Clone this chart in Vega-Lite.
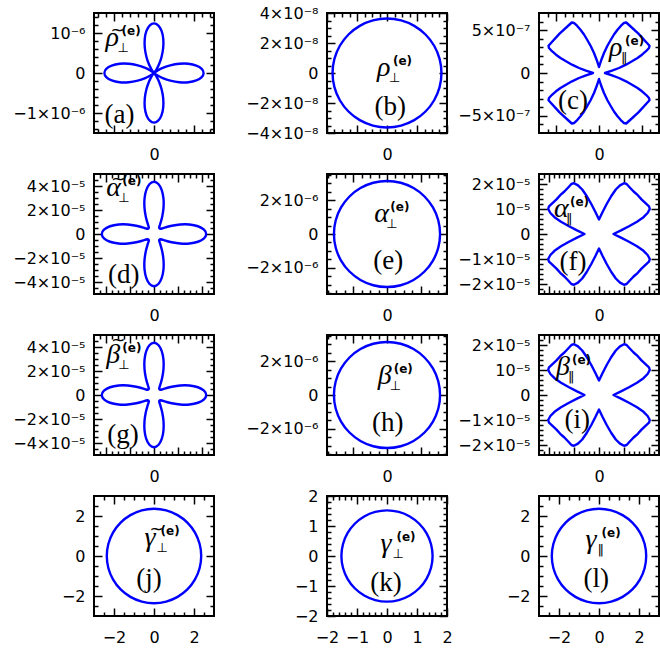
{
  "$schema": "https://vega.github.io/schema/vega-lite/v6.json",
  "padding": 0,
  "columns": 3,
  "align": "each",
  "bounds": "full",
  "spacing": {"row": -9, "column": 0},
  "datasets": {
    "rose_a": [
      {"x":1.24e-6,"y":0},{"x":1.193e-6,"y":0.104e-6},{"x":1.058e-6,"y":0.187e-6},{"x":0.86e-6,"y":0.231e-6},{"x":0.631e-6,"y":0.23e-6},{"x":0.407e-6,"y":0.19e-6},{"x":0.218e-6,"y":0.126e-6},{"x":0.086e-6,"y":0.06e-6},{"x":0.017e-6,"y":0.014e-6},{"x":0,"y":0},
      {"x":0.014e-6,"y":0.017e-6},{"x":0.06e-6,"y":0.086e-6},{"x":0.126e-6,"y":0.218e-6},{"x":0.19e-6,"y":0.407e-6},{"x":0.23e-6,"y":0.631e-6},{"x":0.231e-6,"y":0.86e-6},{"x":0.187e-6,"y":1.058e-6},{"x":0.104e-6,"y":1.193e-6},
      {"x":0,"y":1.24e-6},{"x":-0.104e-6,"y":1.193e-6},{"x":-0.187e-6,"y":1.058e-6},{"x":-0.231e-6,"y":0.86e-6},{"x":-0.23e-6,"y":0.631e-6},{"x":-0.19e-6,"y":0.407e-6},{"x":-0.126e-6,"y":0.218e-6},{"x":-0.06e-6,"y":0.086e-6},{"x":-0.014e-6,"y":0.017e-6},{"x":0,"y":0},
      {"x":-0.017e-6,"y":0.014e-6},{"x":-0.086e-6,"y":0.06e-6},{"x":-0.218e-6,"y":0.126e-6},{"x":-0.407e-6,"y":0.19e-6},{"x":-0.631e-6,"y":0.23e-6},{"x":-0.86e-6,"y":0.231e-6},{"x":-1.058e-6,"y":0.187e-6},{"x":-1.193e-6,"y":0.104e-6},
      {"x":-1.24e-6,"y":0},{"x":-1.193e-6,"y":-0.104e-6},{"x":-1.058e-6,"y":-0.187e-6},{"x":-0.86e-6,"y":-0.231e-6},{"x":-0.631e-6,"y":-0.23e-6},{"x":-0.407e-6,"y":-0.19e-6},{"x":-0.218e-6,"y":-0.126e-6},{"x":-0.086e-6,"y":-0.06e-6},{"x":-0.017e-6,"y":-0.014e-6},{"x":0,"y":0},
      {"x":-0.014e-6,"y":-0.017e-6},{"x":-0.06e-6,"y":-0.086e-6},{"x":-0.126e-6,"y":-0.218e-6},{"x":-0.19e-6,"y":-0.407e-6},{"x":-0.23e-6,"y":-0.631e-6},{"x":-0.231e-6,"y":-0.86e-6},{"x":-0.187e-6,"y":-1.058e-6},{"x":-0.104e-6,"y":-1.193e-6},
      {"x":0,"y":-1.24e-6},{"x":0.104e-6,"y":-1.193e-6},{"x":0.187e-6,"y":-1.058e-6},{"x":0.231e-6,"y":-0.86e-6},{"x":0.23e-6,"y":-0.631e-6},{"x":0.19e-6,"y":-0.407e-6},{"x":0.126e-6,"y":-0.218e-6},{"x":0.06e-6,"y":-0.086e-6},{"x":0.014e-6,"y":-0.017e-6},{"x":0,"y":0},
      {"x":0.017e-6,"y":-0.014e-6},{"x":0.086e-6,"y":-0.06e-6},{"x":0.218e-6,"y":-0.126e-6},{"x":0.407e-6,"y":-0.19e-6},{"x":0.631e-6,"y":-0.23e-6},{"x":0.86e-6,"y":-0.231e-6},{"x":1.058e-6,"y":-0.187e-6},{"x":1.193e-6,"y":-0.104e-6}
    ],
    "rose_dg": [
      {"x":4.35e-5,"y":0},{"x":4.168e-5,"y":0.365e-5},{"x":3.664e-5,"y":0.646e-5},{"x":2.95e-5,"y":0.79e-5},{"x":2.175e-5,"y":0.792e-5},{"x":1.481e-5,"y":0.691e-5},{"x":0.965e-5,"y":0.557e-5},{"x":0.656e-5,"y":0.459e-5},{"x":0.515e-5,"y":0.432e-5},{"x":0.461e-5,"y":0.461e-5},
      {"x":0.432e-5,"y":0.515e-5},{"x":0.459e-5,"y":0.656e-5},{"x":0.557e-5,"y":0.965e-5},{"x":0.691e-5,"y":1.481e-5},{"x":0.792e-5,"y":2.175e-5},{"x":0.79e-5,"y":2.95e-5},{"x":0.646e-5,"y":3.664e-5},{"x":0.365e-5,"y":4.168e-5},
      {"x":0,"y":4.35e-5},{"x":-0.365e-5,"y":4.168e-5},{"x":-0.646e-5,"y":3.664e-5},{"x":-0.79e-5,"y":2.95e-5},{"x":-0.792e-5,"y":2.175e-5},{"x":-0.691e-5,"y":1.481e-5},{"x":-0.557e-5,"y":0.965e-5},{"x":-0.459e-5,"y":0.656e-5},{"x":-0.432e-5,"y":0.515e-5},{"x":-0.461e-5,"y":0.461e-5},
      {"x":-0.515e-5,"y":0.432e-5},{"x":-0.656e-5,"y":0.459e-5},{"x":-0.965e-5,"y":0.557e-5},{"x":-1.481e-5,"y":0.691e-5},{"x":-2.175e-5,"y":0.792e-5},{"x":-2.95e-5,"y":0.79e-5},{"x":-3.664e-5,"y":0.646e-5},{"x":-4.168e-5,"y":0.365e-5},
      {"x":-4.35e-5,"y":0},{"x":-4.168e-5,"y":-0.365e-5},{"x":-3.664e-5,"y":-0.646e-5},{"x":-2.95e-5,"y":-0.79e-5},{"x":-2.175e-5,"y":-0.792e-5},{"x":-1.481e-5,"y":-0.691e-5},{"x":-0.965e-5,"y":-0.557e-5},{"x":-0.656e-5,"y":-0.459e-5},{"x":-0.515e-5,"y":-0.432e-5},{"x":-0.461e-5,"y":-0.461e-5},
      {"x":-0.432e-5,"y":-0.515e-5},{"x":-0.459e-5,"y":-0.656e-5},{"x":-0.557e-5,"y":-0.965e-5},{"x":-0.691e-5,"y":-1.481e-5},{"x":-0.792e-5,"y":-2.175e-5},{"x":-0.79e-5,"y":-2.95e-5},{"x":-0.646e-5,"y":-3.664e-5},{"x":-0.365e-5,"y":-4.168e-5},
      {"x":0,"y":-4.35e-5},{"x":0.365e-5,"y":-4.168e-5},{"x":0.646e-5,"y":-3.664e-5},{"x":0.79e-5,"y":-2.95e-5},{"x":0.792e-5,"y":-2.175e-5},{"x":0.691e-5,"y":-1.481e-5},{"x":0.557e-5,"y":-0.965e-5},{"x":0.459e-5,"y":-0.656e-5},{"x":0.432e-5,"y":-0.515e-5},{"x":0.461e-5,"y":-0.461e-5},
      {"x":0.515e-5,"y":-0.432e-5},{"x":0.656e-5,"y":-0.459e-5},{"x":0.965e-5,"y":-0.557e-5},{"x":1.481e-5,"y":-0.691e-5},{"x":2.175e-5,"y":-0.792e-5},{"x":2.95e-5,"y":-0.79e-5},{"x":3.664e-5,"y":-0.646e-5},{"x":4.168e-5,"y":-0.365e-5}
    ],
    "lobe_c": [
      {"x":0.7e-7,"y":0},{"x":1.517e-7,"y":0.268e-7},{"x":2.333e-7,"y":0.583e-7},{"x":3.15e-7,"y":0.968e-7},{"x":3.85e-7,"y":1.365e-7},{"x":4.492e-7,"y":1.75e-7},{"x":5.017e-7,"y":2.135e-7},{"x":5.484e-7,"y":2.543e-7},{"x":5.834e-7,"y":2.917e-7},{"x":5.892e-7,"y":3.174e-7},{"x":5.6e-7,"y":3.5e-7},{"x":4.6e-7,"y":4.6e-7},
      {"x":3.5e-7,"y":5.6e-7},{"x":3.174e-7,"y":5.892e-7},{"x":2.917e-7,"y":5.834e-7},{"x":2.543e-7,"y":5.484e-7},{"x":2.135e-7,"y":5.017e-7},{"x":1.75e-7,"y":4.492e-7},{"x":1.365e-7,"y":3.85e-7},{"x":0.968e-7,"y":3.15e-7},{"x":0.583e-7,"y":2.333e-7},{"x":0.268e-7,"y":1.517e-7},
      {"x":0,"y":0.7e-7},{"x":-0.268e-7,"y":1.517e-7},{"x":-0.583e-7,"y":2.333e-7},{"x":-0.968e-7,"y":3.15e-7},{"x":-1.365e-7,"y":3.85e-7},{"x":-1.75e-7,"y":4.492e-7},{"x":-2.135e-7,"y":5.017e-7},{"x":-2.543e-7,"y":5.484e-7},{"x":-2.917e-7,"y":5.834e-7},{"x":-3.174e-7,"y":5.892e-7},{"x":-3.5e-7,"y":5.6e-7},{"x":-4.6e-7,"y":4.6e-7},
      {"x":-5.6e-7,"y":3.5e-7},{"x":-5.892e-7,"y":3.174e-7},{"x":-5.834e-7,"y":2.917e-7},{"x":-5.484e-7,"y":2.543e-7},{"x":-5.017e-7,"y":2.135e-7},{"x":-4.492e-7,"y":1.75e-7},{"x":-3.85e-7,"y":1.365e-7},{"x":-3.15e-7,"y":0.968e-7},{"x":-2.333e-7,"y":0.583e-7},{"x":-1.517e-7,"y":0.268e-7},
      {"x":-0.7e-7,"y":0},{"x":-1.517e-7,"y":-0.268e-7},{"x":-2.333e-7,"y":-0.583e-7},{"x":-3.15e-7,"y":-0.968e-7},{"x":-3.85e-7,"y":-1.365e-7},{"x":-4.492e-7,"y":-1.75e-7},{"x":-5.017e-7,"y":-2.135e-7},{"x":-5.484e-7,"y":-2.543e-7},{"x":-5.834e-7,"y":-2.917e-7},{"x":-5.892e-7,"y":-3.174e-7},{"x":-5.6e-7,"y":-3.5e-7},{"x":-4.6e-7,"y":-4.6e-7},
      {"x":-3.5e-7,"y":-5.6e-7},{"x":-3.174e-7,"y":-5.892e-7},{"x":-2.917e-7,"y":-5.834e-7},{"x":-2.543e-7,"y":-5.484e-7},{"x":-2.135e-7,"y":-5.017e-7},{"x":-1.75e-7,"y":-4.492e-7},{"x":-1.365e-7,"y":-3.85e-7},{"x":-0.968e-7,"y":-3.15e-7},{"x":-0.583e-7,"y":-2.333e-7},{"x":-0.268e-7,"y":-1.517e-7},
      {"x":0,"y":-0.7e-7},{"x":0.268e-7,"y":-1.517e-7},{"x":0.583e-7,"y":-2.333e-7},{"x":0.968e-7,"y":-3.15e-7},{"x":1.365e-7,"y":-3.85e-7},{"x":1.75e-7,"y":-4.492e-7},{"x":2.135e-7,"y":-5.017e-7},{"x":2.543e-7,"y":-5.484e-7},{"x":2.917e-7,"y":-5.834e-7},{"x":3.174e-7,"y":-5.892e-7},{"x":3.5e-7,"y":-5.6e-7},{"x":4.6e-7,"y":-4.6e-7},
      {"x":5.6e-7,"y":-3.5e-7},{"x":5.892e-7,"y":-3.174e-7},{"x":5.834e-7,"y":-2.917e-7},{"x":5.484e-7,"y":-2.543e-7},{"x":5.017e-7,"y":-2.135e-7},{"x":4.492e-7,"y":-1.75e-7},{"x":3.85e-7,"y":-1.365e-7},{"x":3.15e-7,"y":-0.968e-7},{"x":2.333e-7,"y":-0.583e-7},{"x":1.517e-7,"y":-0.268e-7}
    ],
    "lobe_fi": [
      {"x":5.8e-6,"y":0},{"x":8.8e-6,"y":1.44e-6},{"x":12e-6,"y":3.08e-6},{"x":15.2e-6,"y":4.92e-6},{"x":17.8e-6,"y":6.72e-6},{"x":19.44e-6,"y":8.4e-6},{"x":20.32e-6,"y":10e-6},{"x":20e-6,"y":11.04e-6},{"x":18.6e-6,"y":12.32e-6},{"x":17e-6,"y":13.84e-6},{"x":15.52e-6,"y":15.52e-6},
      {"x":13.84e-6,"y":17e-6},{"x":12.32e-6,"y":18.6e-6},{"x":11.04e-6,"y":20e-6},{"x":10e-6,"y":20.32e-6},{"x":8.4e-6,"y":19.44e-6},{"x":6.72e-6,"y":17.8e-6},{"x":4.92e-6,"y":15.2e-6},{"x":3.08e-6,"y":12e-6},{"x":1.44e-6,"y":8.8e-6},
      {"x":0,"y":5.8e-6},{"x":-1.44e-6,"y":8.8e-6},{"x":-3.08e-6,"y":12e-6},{"x":-4.92e-6,"y":15.2e-6},{"x":-6.72e-6,"y":17.8e-6},{"x":-8.4e-6,"y":19.44e-6},{"x":-10e-6,"y":20.32e-6},{"x":-11.04e-6,"y":20e-6},{"x":-12.32e-6,"y":18.6e-6},{"x":-13.84e-6,"y":17e-6},{"x":-15.52e-6,"y":15.52e-6},
      {"x":-17e-6,"y":13.84e-6},{"x":-18.6e-6,"y":12.32e-6},{"x":-20e-6,"y":11.04e-6},{"x":-20.32e-6,"y":10e-6},{"x":-19.44e-6,"y":8.4e-6},{"x":-17.8e-6,"y":6.72e-6},{"x":-15.2e-6,"y":4.92e-6},{"x":-12e-6,"y":3.08e-6},{"x":-8.8e-6,"y":1.44e-6},
      {"x":-5.8e-6,"y":0},{"x":-8.8e-6,"y":-1.44e-6},{"x":-12e-6,"y":-3.08e-6},{"x":-15.2e-6,"y":-4.92e-6},{"x":-17.8e-6,"y":-6.72e-6},{"x":-19.44e-6,"y":-8.4e-6},{"x":-20.32e-6,"y":-10e-6},{"x":-20e-6,"y":-11.04e-6},{"x":-18.6e-6,"y":-12.32e-6},{"x":-17e-6,"y":-13.84e-6},{"x":-15.52e-6,"y":-15.52e-6},
      {"x":-13.84e-6,"y":-17e-6},{"x":-12.32e-6,"y":-18.6e-6},{"x":-11.04e-6,"y":-20e-6},{"x":-10e-6,"y":-20.32e-6},{"x":-8.4e-6,"y":-19.44e-6},{"x":-6.72e-6,"y":-17.8e-6},{"x":-4.92e-6,"y":-15.2e-6},{"x":-3.08e-6,"y":-12e-6},{"x":-1.44e-6,"y":-8.8e-6},
      {"x":0,"y":-5.8e-6},{"x":1.44e-6,"y":-8.8e-6},{"x":3.08e-6,"y":-12e-6},{"x":4.92e-6,"y":-15.2e-6},{"x":6.72e-6,"y":-17.8e-6},{"x":8.4e-6,"y":-19.44e-6},{"x":10e-6,"y":-20.32e-6},{"x":11.04e-6,"y":-20e-6},{"x":12.32e-6,"y":-18.6e-6},{"x":13.84e-6,"y":-17e-6},{"x":15.52e-6,"y":-15.52e-6},
      {"x":17e-6,"y":-13.84e-6},{"x":18.6e-6,"y":-12.32e-6},{"x":20e-6,"y":-11.04e-6},{"x":20.32e-6,"y":-10e-6},{"x":19.44e-6,"y":-8.4e-6},{"x":17.8e-6,"y":-6.72e-6},{"x":15.2e-6,"y":-4.92e-6},{"x":12e-6,"y":-3.08e-6},{"x":8.8e-6,"y":-1.44e-6}
    ],
    "circ_b": [
      {"x":3.63e-8,"y":0},{"x":3.506e-8,"y":0.94e-8},{"x":3.144e-8,"y":1.815e-8},{"x":2.567e-8,"y":2.567e-8},{"x":1.815e-8,"y":3.144e-8},{"x":0.94e-8,"y":3.506e-8},
      {"x":0,"y":3.63e-8},{"x":-0.94e-8,"y":3.506e-8},{"x":-1.815e-8,"y":3.144e-8},{"x":-2.567e-8,"y":2.567e-8},{"x":-3.144e-8,"y":1.815e-8},{"x":-3.506e-8,"y":0.94e-8},
      {"x":-3.63e-8,"y":0},{"x":-3.506e-8,"y":-0.94e-8},{"x":-3.144e-8,"y":-1.815e-8},{"x":-2.567e-8,"y":-2.567e-8},{"x":-1.815e-8,"y":-3.144e-8},{"x":-0.94e-8,"y":-3.506e-8},
      {"x":0,"y":-3.63e-8},{"x":0.94e-8,"y":-3.506e-8},{"x":1.815e-8,"y":-3.144e-8},{"x":2.567e-8,"y":-2.567e-8},{"x":3.144e-8,"y":-1.815e-8},{"x":3.506e-8,"y":-0.94e-8}
    ],
    "circ_eh": [
      {"x":3.14e-6,"y":0},{"x":3.033e-6,"y":0.813e-6},{"x":2.719e-6,"y":1.57e-6},{"x":2.22e-6,"y":2.22e-6},{"x":1.57e-6,"y":2.719e-6},{"x":0.813e-6,"y":3.033e-6},
      {"x":0,"y":3.14e-6},{"x":-0.813e-6,"y":3.033e-6},{"x":-1.57e-6,"y":2.719e-6},{"x":-2.22e-6,"y":2.22e-6},{"x":-2.719e-6,"y":1.57e-6},{"x":-3.033e-6,"y":0.813e-6},
      {"x":-3.14e-6,"y":0},{"x":-3.033e-6,"y":-0.813e-6},{"x":-2.719e-6,"y":-1.57e-6},{"x":-2.22e-6,"y":-2.22e-6},{"x":-1.57e-6,"y":-2.719e-6},{"x":-0.813e-6,"y":-3.033e-6},
      {"x":0,"y":-3.14e-6},{"x":0.813e-6,"y":-3.033e-6},{"x":1.57e-6,"y":-2.719e-6},{"x":2.22e-6,"y":-2.22e-6},{"x":2.719e-6,"y":-1.57e-6},{"x":3.033e-6,"y":-0.813e-6}
    ],
    "circ_jl": [
      {"x":2.36,"y":0},{"x":2.28,"y":0.611},{"x":2.044,"y":1.18},{"x":1.669,"y":1.669},{"x":1.18,"y":2.044},{"x":0.611,"y":2.28},
      {"x":0,"y":2.36},{"x":-0.611,"y":2.28},{"x":-1.18,"y":2.044},{"x":-1.669,"y":1.669},{"x":-2.044,"y":1.18},{"x":-2.28,"y":0.611},
      {"x":-2.36,"y":0},{"x":-2.28,"y":-0.611},{"x":-2.044,"y":-1.18},{"x":-1.669,"y":-1.669},{"x":-1.18,"y":-2.044},{"x":-0.611,"y":-2.28},
      {"x":0,"y":-2.36},{"x":0.611,"y":-2.28},{"x":1.18,"y":-2.044},{"x":1.669,"y":-1.669},{"x":2.044,"y":-1.18},{"x":2.28,"y":-0.611}
    ],
    "circ_k": [
      {"x":1.52,"y":0},{"x":1.468,"y":0.393},{"x":1.316,"y":0.76},{"x":1.075,"y":1.075},{"x":0.76,"y":1.316},{"x":0.393,"y":1.468},
      {"x":0,"y":1.52},{"x":-0.393,"y":1.468},{"x":-0.76,"y":1.316},{"x":-1.075,"y":1.075},{"x":-1.316,"y":0.76},{"x":-1.468,"y":0.393},
      {"x":-1.52,"y":0},{"x":-1.468,"y":-0.393},{"x":-1.316,"y":-0.76},{"x":-1.075,"y":-1.075},{"x":-0.76,"y":-1.316},{"x":-0.393,"y":-1.468},
      {"x":0,"y":-1.52},{"x":0.393,"y":-1.468},{"x":0.76,"y":-1.316},{"x":1.075,"y":-1.075},{"x":1.316,"y":-0.76},{"x":1.468,"y":-0.393}
    ]
  },
  "concat": [
    {
      "width": 120, "height": 120,
      "data": {"values": [{"x":-1.21e-6,"y":0.67e-6,"ky":0.935e-6,"sym":"ρ","tl":"~","sub":"⊥","tx":-0.86e-6,"ty":-1.04e-6,"tag":"(a)"}]},
      "layer": [
        {"data": {"name": "rose_a"}, "mark": {"type": "line", "interpolate": "cardinal-closed", "stroke": "#0000ff", "strokeWidth": 2.4},
         "encoding": {
           "x": {"field": "x", "type": "quantitative", "scale": {"domain": [-1.5e-6, 1.5e-6], "nice": false}, "axis": {"orient": "bottom", "values": [-1e-6, 0, 1e-6], "tickSize": -8, "labelExpr": "datum.value == 0 ? '0' : ''", "minExtent": 36, "title": null}},
           "y": {"field": "y", "type": "quantitative", "scale": {"domain": [-1.5e-6, 1.5e-6], "nice": false}, "axis": {"orient": "left", "values": [-1e-6, 0, 1e-6], "tickSize": -8, "labelExpr": "datum.value > 0 ? '10⁻⁶' : datum.value < 0 ? '−1×10⁻⁶' : '0'", "minExtent": 93, "title": null}},
           "order": {"value": null}}},
        {"mark": {"type": "text", "style": "symbol"},
         "encoding": {
           "x": {"field": "x", "type": "quantitative", "scale": {"domain": [-1.5e-6, 1.5e-6], "nice": false}, "axis": {"orient": "top", "values": [-1e-6, 0, 1e-6], "tickSize": -8, "labels": false, "minExtent": 12, "title": null}},
           "y": {"field": "y", "type": "quantitative", "scale": {"domain": [-1.5e-6, 1.5e-6], "nice": false}, "axis": {"orient": "right", "values": [-1e-6, 0, 1e-6], "tickSize": -8, "labels": false, "minExtent": 6, "title": null}},
           "text": {"field": "sym"}}},
        {"mark": {"type": "text", "style": "sup"},
         "encoding": {
           "x": {"field": "x", "type": "quantitative", "scale": {"domain": [-1.5e-6, 1.5e-6], "nice": false}, "axis": {"orient": "bottom", "values": [-1.4e-6,-1.2e-6,-0.8e-6,-0.6e-6,-0.4e-6,-0.2e-6,0.2e-6,0.4e-6,0.6e-6,0.8e-6,1.2e-6,1.4e-6], "tickSize": -4, "labels": false, "title": null}},
           "y": {"field": "y", "type": "quantitative", "scale": {"domain": [-1.5e-6, 1.5e-6], "nice": false}, "axis": {"orient": "left", "values": [-1.4e-6,-1.2e-6,-0.8e-6,-0.6e-6,-0.4e-6,-0.2e-6,0.2e-6,0.4e-6,0.6e-6,0.8e-6,1.2e-6,1.4e-6], "tickSize": -4, "labels": false, "title": null}},
           "text": {"value": "(e)"}}},
        {"mark": {"type": "text", "style": "sub"},
         "encoding": {
           "x": {"field": "x", "type": "quantitative", "scale": {"domain": [-1.5e-6, 1.5e-6], "nice": false}, "axis": {"orient": "top", "values": [-1.4e-6,-1.2e-6,-0.8e-6,-0.6e-6,-0.4e-6,-0.2e-6,0.2e-6,0.4e-6,0.6e-6,0.8e-6,1.2e-6,1.4e-6], "tickSize": -4, "labels": false, "title": null}},
           "y": {"field": "y", "type": "quantitative", "scale": {"domain": [-1.5e-6, 1.5e-6], "nice": false}, "axis": {"orient": "right", "values": [-1.4e-6,-1.2e-6,-0.8e-6,-0.6e-6,-0.4e-6,-0.2e-6,0.2e-6,0.4e-6,0.6e-6,0.8e-6,1.2e-6,1.4e-6], "tickSize": -4, "labels": false, "title": null}},
           "text": {"field": "sub"}}},
        {"mark": {"type": "text", "style": "tilde"},
         "encoding": {
           "x": {"field": "x", "type": "quantitative", "scale": {"domain": [-1.5e-6, 1.5e-6], "nice": false}, "axis": null},
           "y": {"field": "ky", "type": "quantitative", "scale": {"domain": [-1.5e-6, 1.5e-6], "nice": false}, "axis": null},
           "text": {"field": "tl"}}},
        {"mark": {"type": "text", "style": "tag"},
         "encoding": {
           "x": {"field": "tx", "type": "quantitative", "scale": {"domain": [-1.5e-6, 1.5e-6], "nice": false}, "axis": null},
           "y": {"field": "ty", "type": "quantitative", "scale": {"domain": [-1.5e-6, 1.5e-6], "nice": false}, "axis": null},
           "text": {"field": "tag"}}}
      ],
      "resolve": {"axis": {"x": "independent", "y": "independent"}}
    },
    {
      "width": 120, "height": 120,
      "data": {"values": [{"x":-0.67e-8,"y":-0.22e-8,"sym":"ρ","sub":"⊥","tx":0.22e-8,"ty":-2.29e-8,"tag":"(b)"}]},
      "layer": [
        {"data": {"name": "circ_b"}, "mark": {"type": "line", "interpolate": "cardinal-closed", "stroke": "#0000ff", "strokeWidth": 2.4},
         "encoding": {
           "x": {"field": "x", "type": "quantitative", "scale": {"domain": [-4e-8, 4e-8], "nice": false}, "axis": {"orient": "bottom", "values": [-4e-8,-2e-8,0,2e-8,4e-8], "tickSize": -8, "labelExpr": "datum.value == 0 ? '0' : ''", "minExtent": 36, "title": null}},
           "y": {"field": "y", "type": "quantitative", "scale": {"domain": [-4e-8, 4e-8], "nice": false}, "axis": {"orient": "left", "values": [-4e-8,-2e-8,0,2e-8,4e-8], "tickSize": -8, "labelExpr": "datum.value > 3e-8 ? '4×10⁻⁸' : datum.value > 1e-8 ? '2×10⁻⁸' : datum.value < -3e-8 ? '−4×10⁻⁸' : datum.value < -1e-8 ? '−2×10⁻⁸' : '0'", "minExtent": 105, "title": null}},
           "order": {"value": null}}},
        {"mark": {"type": "text", "style": "symbol"},
         "encoding": {
           "x": {"field": "x", "type": "quantitative", "scale": {"domain": [-4e-8, 4e-8], "nice": false}, "axis": {"orient": "top", "values": [-4e-8,-2e-8,0,2e-8,4e-8], "tickSize": -8, "labels": false, "minExtent": 12, "title": null}},
           "y": {"field": "y", "type": "quantitative", "scale": {"domain": [-4e-8, 4e-8], "nice": false}, "axis": {"orient": "right", "values": [-4e-8,-2e-8,0,2e-8,4e-8], "tickSize": -8, "labels": false, "minExtent": 6, "title": null}},
           "text": {"field": "sym"}}},
        {"mark": {"type": "text", "style": "sup"},
         "encoding": {
           "x": {"field": "x", "type": "quantitative", "scale": {"domain": [-4e-8, 4e-8], "nice": false}, "axis": {"orient": "bottom", "values": [-3.5e-8,-3e-8,-2.5e-8,-1.5e-8,-1e-8,-0.5e-8,0.5e-8,1e-8,1.5e-8,2.5e-8,3e-8,3.5e-8], "tickSize": -4, "labels": false, "title": null}},
           "y": {"field": "y", "type": "quantitative", "scale": {"domain": [-4e-8, 4e-8], "nice": false}, "axis": {"orient": "left", "values": [-3.5e-8,-3e-8,-2.5e-8,-1.5e-8,-1e-8,-0.5e-8,0.5e-8,1e-8,1.5e-8,2.5e-8,3e-8,3.5e-8], "tickSize": -4, "labels": false, "title": null}},
           "text": {"value": "(e)"}}},
        {"mark": {"type": "text", "style": "sub"},
         "encoding": {
           "x": {"field": "x", "type": "quantitative", "scale": {"domain": [-4e-8, 4e-8], "nice": false}, "axis": {"orient": "top", "values": [-3.5e-8,-3e-8,-2.5e-8,-1.5e-8,-1e-8,-0.5e-8,0.5e-8,1e-8,1.5e-8,2.5e-8,3e-8,3.5e-8], "tickSize": -4, "labels": false, "title": null}},
           "y": {"field": "y", "type": "quantitative", "scale": {"domain": [-4e-8, 4e-8], "nice": false}, "axis": {"orient": "right", "values": [-3.5e-8,-3e-8,-2.5e-8,-1.5e-8,-1e-8,-0.5e-8,0.5e-8,1e-8,1.5e-8,2.5e-8,3e-8,3.5e-8], "tickSize": -4, "labels": false, "title": null}},
           "text": {"field": "sub"}}},
        {"mark": {"type": "text", "style": "tag"},
         "encoding": {
           "x": {"field": "tx", "type": "quantitative", "scale": {"domain": [-4e-8, 4e-8], "nice": false}, "axis": null},
           "y": {"field": "ty", "type": "quantitative", "scale": {"domain": [-4e-8, 4e-8], "nice": false}, "axis": null},
           "text": {"field": "tag"}}}
      ],
      "resolve": {"axis": {"x": "independent", "y": "independent"}}
    },
    {
      "width": 120, "height": 120,
      "data": {"values": [{"x":1.17e-7,"y":1.95e-7,"sym":"ρ","sub":"‖","tx":-3.03e-7,"ty":-3.3e-7,"tag":"(c)"}]},
      "layer": [
        {"data": {"name": "lobe_c"}, "mark": {"type": "line", "interpolate": "linear-closed", "stroke": "#0000ff", "strokeWidth": 2.4, "strokeJoin": "round"},
         "encoding": {
           "x": {"field": "x", "type": "quantitative", "scale": {"domain": [-7e-7, 7e-7], "nice": false}, "axis": {"orient": "bottom", "values": [-5e-7,0,5e-7], "tickSize": -8, "labelExpr": "datum.value == 0 ? '0' : ''", "minExtent": 36, "title": null}},
           "y": {"field": "y", "type": "quantitative", "scale": {"domain": [-7e-7, 7e-7], "nice": false}, "axis": {"orient": "left", "values": [-5e-7,0,5e-7], "tickSize": -8, "labelExpr": "datum.value > 0 ? '5×10⁻⁷' : datum.value < 0 ? '−5×10⁻⁷' : '0'", "minExtent": 84, "title": null}},
           "order": {"value": null}}},
        {"mark": {"type": "text", "style": "symbol"},
         "encoding": {
           "x": {"field": "x", "type": "quantitative", "scale": {"domain": [-7e-7, 7e-7], "nice": false}, "axis": {"orient": "top", "values": [-5e-7,0,5e-7], "tickSize": -8, "labels": false, "minExtent": 12, "title": null}},
           "y": {"field": "y", "type": "quantitative", "scale": {"domain": [-7e-7, 7e-7], "nice": false}, "axis": {"orient": "right", "values": [-5e-7,0,5e-7], "tickSize": -8, "labels": false, "minExtent": 0, "title": null}},
           "text": {"field": "sym"}}},
        {"mark": {"type": "text", "style": "sup"},
         "encoding": {
           "x": {"field": "x", "type": "quantitative", "scale": {"domain": [-7e-7, 7e-7], "nice": false}, "axis": {"orient": "bottom", "values": [-6e-7,-4e-7,-3e-7,-2e-7,-1e-7,1e-7,2e-7,3e-7,4e-7,6e-7], "tickSize": -4, "labels": false, "title": null}},
           "y": {"field": "y", "type": "quantitative", "scale": {"domain": [-7e-7, 7e-7], "nice": false}, "axis": {"orient": "left", "values": [-6e-7,-4e-7,-3e-7,-2e-7,-1e-7,1e-7,2e-7,3e-7,4e-7,6e-7], "tickSize": -4, "labels": false, "title": null}},
           "text": {"value": "(e)"}}},
        {"mark": {"type": "text", "style": "sub"},
         "encoding": {
           "x": {"field": "x", "type": "quantitative", "scale": {"domain": [-7e-7, 7e-7], "nice": false}, "axis": {"orient": "top", "values": [-6e-7,-4e-7,-3e-7,-2e-7,-1e-7,1e-7,2e-7,3e-7,4e-7,6e-7], "tickSize": -4, "labels": false, "title": null}},
           "y": {"field": "y", "type": "quantitative", "scale": {"domain": [-7e-7, 7e-7], "nice": false}, "axis": {"orient": "right", "values": [-6e-7,-4e-7,-3e-7,-2e-7,-1e-7,1e-7,2e-7,3e-7,4e-7,6e-7], "tickSize": -4, "labels": false, "title": null}},
           "text": {"field": "sub"}}},
        {"mark": {"type": "text", "style": "tag"},
         "encoding": {
           "x": {"field": "tx", "type": "quantitative", "scale": {"domain": [-7e-7, 7e-7], "nice": false}, "axis": null},
           "y": {"field": "ty", "type": "quantitative", "scale": {"domain": [-7e-7, 7e-7], "nice": false}, "axis": null},
           "text": {"field": "tag"}}}
      ],
      "resolve": {"axis": {"x": "independent", "y": "independent"}}
    },
    {
      "width": 120, "height": 120,
      "data": {"values": [{"x":-3.97e-5,"y":3.19e-5,"ky":4.07e-5,"sym":"α","tl":"~","sub":"⊥","tx":-2.52e-5,"ty":-3.39e-5,"tag":"(d)"}]},
      "layer": [
        {"data": {"name": "rose_dg"}, "mark": {"type": "line", "interpolate": "cardinal-closed", "stroke": "#0000ff", "strokeWidth": 2.4},
         "encoding": {
           "x": {"field": "x", "type": "quantitative", "scale": {"domain": [-5e-5, 5e-5], "nice": false}, "axis": {"orient": "bottom", "values": [-4e-5,-2e-5,0,2e-5,4e-5], "tickSize": -8, "labelExpr": "datum.value == 0 ? '0' : ''", "minExtent": 36, "title": null}},
           "y": {"field": "y", "type": "quantitative", "scale": {"domain": [-5e-5, 5e-5], "nice": false}, "axis": {"orient": "left", "values": [-4e-5,-2e-5,0,2e-5,4e-5], "tickSize": -8, "labelExpr": "datum.value > 3e-5 ? '4×10⁻⁵' : datum.value > 1e-5 ? '2×10⁻⁵' : datum.value < -3e-5 ? '−4×10⁻⁵' : datum.value < -1e-5 ? '−2×10⁻⁵' : '0'", "minExtent": 93, "title": null}},
           "order": {"value": null}}},
        {"mark": {"type": "text", "style": "symbol"},
         "encoding": {
           "x": {"field": "x", "type": "quantitative", "scale": {"domain": [-5e-5, 5e-5], "nice": false}, "axis": {"orient": "top", "values": [-4e-5,-2e-5,0,2e-5,4e-5], "tickSize": -8, "labels": false, "minExtent": 12, "title": null}},
           "y": {"field": "y", "type": "quantitative", "scale": {"domain": [-5e-5, 5e-5], "nice": false}, "axis": {"orient": "right", "values": [-4e-5,-2e-5,0,2e-5,4e-5], "tickSize": -8, "labels": false, "minExtent": 6, "title": null}},
           "text": {"field": "sym"}}},
        {"mark": {"type": "text", "style": "sup"},
         "encoding": {
           "x": {"field": "x", "type": "quantitative", "scale": {"domain": [-5e-5, 5e-5], "nice": false}, "axis": {"orient": "bottom", "values": [-4.5e-5,-3.5e-5,-3e-5,-2.5e-5,-1.5e-5,-1e-5,-0.5e-5,0.5e-5,1e-5,1.5e-5,2.5e-5,3e-5,3.5e-5,4.5e-5], "tickSize": -4, "labels": false, "title": null}},
           "y": {"field": "y", "type": "quantitative", "scale": {"domain": [-5e-5, 5e-5], "nice": false}, "axis": {"orient": "left", "values": [-4.5e-5,-3.5e-5,-3e-5,-2.5e-5,-1.5e-5,-1e-5,-0.5e-5,0.5e-5,1e-5,1.5e-5,2.5e-5,3e-5,3.5e-5,4.5e-5], "tickSize": -4, "labels": false, "title": null}},
           "text": {"value": "(e)"}}},
        {"mark": {"type": "text", "style": "sub"},
         "encoding": {
           "x": {"field": "x", "type": "quantitative", "scale": {"domain": [-5e-5, 5e-5], "nice": false}, "axis": {"orient": "top", "values": [-4.5e-5,-3.5e-5,-3e-5,-2.5e-5,-1.5e-5,-1e-5,-0.5e-5,0.5e-5,1e-5,1.5e-5,2.5e-5,3e-5,3.5e-5,4.5e-5], "tickSize": -4, "labels": false, "title": null}},
           "y": {"field": "y", "type": "quantitative", "scale": {"domain": [-5e-5, 5e-5], "nice": false}, "axis": {"orient": "right", "values": [-4.5e-5,-3.5e-5,-3e-5,-2.5e-5,-1.5e-5,-1e-5,-0.5e-5,0.5e-5,1e-5,1.5e-5,2.5e-5,3e-5,3.5e-5,4.5e-5], "tickSize": -4, "labels": false, "title": null}},
           "text": {"field": "sub"}}},
        {"mark": {"type": "text", "style": "tilde"},
         "encoding": {
           "x": {"field": "x", "type": "quantitative", "scale": {"domain": [-5e-5, 5e-5], "nice": false}, "axis": null},
           "y": {"field": "ky", "type": "quantitative", "scale": {"domain": [-5e-5, 5e-5], "nice": false}, "axis": null},
           "text": {"field": "tl"}}},
        {"mark": {"type": "text", "style": "tag"},
         "encoding": {
           "x": {"field": "tx", "type": "quantitative", "scale": {"domain": [-5e-5, 5e-5], "nice": false}, "axis": null},
           "y": {"field": "ty", "type": "quantitative", "scale": {"domain": [-5e-5, 5e-5], "nice": false}, "axis": null},
           "text": {"field": "tag"}}}
      ],
      "resolve": {"axis": {"x": "independent", "y": "independent"}}
    },
    {
      "width": 120, "height": 120,
      "data": {"values": [{"x":-7.5e-7,"y":7.3e-7,"sym":"α","sub":"⊥","tx":0.8e-7,"ty":-1.58e-6,"tag":"(e)"}]},
      "layer": [
        {"data": {"name": "circ_eh"}, "mark": {"type": "line", "interpolate": "cardinal-closed", "stroke": "#0000ff", "strokeWidth": 2.4},
         "encoding": {
           "x": {"field": "x", "type": "quantitative", "scale": {"domain": [-3.55e-6, 3.55e-6], "nice": false}, "axis": {"orient": "bottom", "values": [-2e-6,0,2e-6], "tickSize": -8, "labelExpr": "datum.value == 0 ? '0' : ''", "minExtent": 36, "title": null}},
           "y": {"field": "y", "type": "quantitative", "scale": {"domain": [-3.55e-6, 3.55e-6], "nice": false}, "axis": {"orient": "left", "values": [-2e-6,0,2e-6], "tickSize": -8, "labelExpr": "datum.value > 0 ? '2×10⁻⁶' : datum.value < 0 ? '−2×10⁻⁶' : '0'", "minExtent": 105, "title": null}},
           "order": {"value": null}}},
        {"mark": {"type": "text", "style": "symbol"},
         "encoding": {
           "x": {"field": "x", "type": "quantitative", "scale": {"domain": [-3.55e-6, 3.55e-6], "nice": false}, "axis": {"orient": "top", "values": [-2e-6,0,2e-6], "tickSize": -8, "labels": false, "minExtent": 12, "title": null}},
           "y": {"field": "y", "type": "quantitative", "scale": {"domain": [-3.55e-6, 3.55e-6], "nice": false}, "axis": {"orient": "right", "values": [-2e-6,0,2e-6], "tickSize": -8, "labels": false, "minExtent": 6, "title": null}},
           "text": {"field": "sym"}}},
        {"mark": {"type": "text", "style": "sup"},
         "encoding": {
           "x": {"field": "x", "type": "quantitative", "scale": {"domain": [-3.55e-6, 3.55e-6], "nice": false}, "axis": {"orient": "bottom", "values": [-3.5e-6,-3e-6,-2.5e-6,-1.5e-6,-1e-6,-0.5e-6,0.5e-6,1e-6,1.5e-6,2.5e-6,3e-6,3.5e-6], "tickSize": -4, "labels": false, "title": null}},
           "y": {"field": "y", "type": "quantitative", "scale": {"domain": [-3.55e-6, 3.55e-6], "nice": false}, "axis": {"orient": "left", "values": [-3.5e-6,-3e-6,-2.5e-6,-1.5e-6,-1e-6,-0.5e-6,0.5e-6,1e-6,1.5e-6,2.5e-6,3e-6,3.5e-6], "tickSize": -4, "labels": false, "title": null}},
           "text": {"value": "(e)"}}},
        {"mark": {"type": "text", "style": "sub"},
         "encoding": {
           "x": {"field": "x", "type": "quantitative", "scale": {"domain": [-3.55e-6, 3.55e-6], "nice": false}, "axis": {"orient": "top", "values": [-3.5e-6,-3e-6,-2.5e-6,-1.5e-6,-1e-6,-0.5e-6,0.5e-6,1e-6,1.5e-6,2.5e-6,3e-6,3.5e-6], "tickSize": -4, "labels": false, "title": null}},
           "y": {"field": "y", "type": "quantitative", "scale": {"domain": [-3.55e-6, 3.55e-6], "nice": false}, "axis": {"orient": "right", "values": [-3.5e-6,-3e-6,-2.5e-6,-1.5e-6,-1e-6,-0.5e-6,0.5e-6,1e-6,1.5e-6,2.5e-6,3e-6,3.5e-6], "tickSize": -4, "labels": false, "title": null}},
           "text": {"field": "sub"}}},
        {"mark": {"type": "text", "style": "tag"},
         "encoding": {
           "x": {"field": "tx", "type": "quantitative", "scale": {"domain": [-3.55e-6, 3.55e-6], "nice": false}, "axis": null},
           "y": {"field": "ty", "type": "quantitative", "scale": {"domain": [-3.55e-6, 3.55e-6], "nice": false}, "axis": null},
           "text": {"field": "tag"}}}
      ],
      "resolve": {"axis": {"x": "independent", "y": "independent"}}
    },
    {
      "width": 120, "height": 120,
      "data": {"values": [{"x":-1.8e-5,"y":0.69e-5,"sym":"α","sub":"‖","tx":-1.04e-5,"ty":-1.13e-5,"tag":"(f)"}]},
      "layer": [
        {"data": {"name": "lobe_fi"}, "mark": {"type": "line", "interpolate": "linear-closed", "stroke": "#0000ff", "strokeWidth": 2.4, "strokeJoin": "round"},
         "encoding": {
           "x": {"field": "x", "type": "quantitative", "scale": {"domain": [-2.4e-5, 2.4e-5], "nice": false}, "axis": {"orient": "bottom", "values": [-2e-5,-1e-5,0,1e-5,2e-5], "tickSize": -8, "labelExpr": "datum.value == 0 ? '0' : ''", "minExtent": 36, "title": null}},
           "y": {"field": "y", "type": "quantitative", "scale": {"domain": [-2.4e-5, 2.4e-5], "nice": false}, "axis": {"orient": "left", "values": [-2e-5,-1e-5,0,1e-5,2e-5], "tickSize": -8, "labelExpr": "datum.value > 1.5e-5 ? '2×10⁻⁵' : datum.value > 0 ? '10⁻⁵' : datum.value < -1.5e-5 ? '−2×10⁻⁵' : datum.value < 0 ? '−1×10⁻⁵' : '0'", "minExtent": 84, "title": null}},
           "order": {"value": null}}},
        {"mark": {"type": "text", "style": "symbol"},
         "encoding": {
           "x": {"field": "x", "type": "quantitative", "scale": {"domain": [-2.4e-5, 2.4e-5], "nice": false}, "axis": {"orient": "top", "values": [-2e-5,-1e-5,0,1e-5,2e-5], "tickSize": -8, "labels": false, "minExtent": 12, "title": null}},
           "y": {"field": "y", "type": "quantitative", "scale": {"domain": [-2.4e-5, 2.4e-5], "nice": false}, "axis": {"orient": "right", "values": [-2e-5,-1e-5,0,1e-5,2e-5], "tickSize": -8, "labels": false, "minExtent": 0, "title": null}},
           "text": {"field": "sym"}}},
        {"mark": {"type": "text", "style": "sup"},
         "encoding": {
           "x": {"field": "x", "type": "quantitative", "scale": {"domain": [-2.4e-5, 2.4e-5], "nice": false}, "axis": {"orient": "bottom", "values": [-2.2e-5,-1.8e-5,-1.6e-5,-1.4e-5,-1.2e-5,-0.8e-5,-0.6e-5,-0.4e-5,-0.2e-5,0.2e-5,0.4e-5,0.6e-5,0.8e-5,1.2e-5,1.4e-5,1.6e-5,1.8e-5,2.2e-5], "tickSize": -4, "labels": false, "title": null}},
           "y": {"field": "y", "type": "quantitative", "scale": {"domain": [-2.4e-5, 2.4e-5], "nice": false}, "axis": {"orient": "left", "values": [-2.2e-5,-1.8e-5,-1.6e-5,-1.4e-5,-1.2e-5,-0.8e-5,-0.6e-5,-0.4e-5,-0.2e-5,0.2e-5,0.4e-5,0.6e-5,0.8e-5,1.2e-5,1.4e-5,1.6e-5,1.8e-5,2.2e-5], "tickSize": -4, "labels": false, "title": null}},
           "text": {"value": "(e)"}}},
        {"mark": {"type": "text", "style": "sub"},
         "encoding": {
           "x": {"field": "x", "type": "quantitative", "scale": {"domain": [-2.4e-5, 2.4e-5], "nice": false}, "axis": {"orient": "top", "values": [-2.2e-5,-1.8e-5,-1.6e-5,-1.4e-5,-1.2e-5,-0.8e-5,-0.6e-5,-0.4e-5,-0.2e-5,0.2e-5,0.4e-5,0.6e-5,0.8e-5,1.2e-5,1.4e-5,1.6e-5,1.8e-5,2.2e-5], "tickSize": -4, "labels": false, "title": null}},
           "y": {"field": "y", "type": "quantitative", "scale": {"domain": [-2.4e-5, 2.4e-5], "nice": false}, "axis": {"orient": "right", "values": [-2.2e-5,-1.8e-5,-1.6e-5,-1.4e-5,-1.2e-5,-0.8e-5,-0.6e-5,-0.4e-5,-0.2e-5,0.2e-5,0.4e-5,0.6e-5,0.8e-5,1.2e-5,1.4e-5,1.6e-5,1.8e-5,2.2e-5], "tickSize": -4, "labels": false, "title": null}},
           "text": {"field": "sub"}}},
        {"mark": {"type": "text", "style": "tag"},
         "encoding": {
           "x": {"field": "tx", "type": "quantitative", "scale": {"domain": [-2.4e-5, 2.4e-5], "nice": false}, "axis": null},
           "y": {"field": "ty", "type": "quantitative", "scale": {"domain": [-2.4e-5, 2.4e-5], "nice": false}, "axis": null},
           "text": {"field": "tag"}}}
      ],
      "resolve": {"axis": {"x": "independent", "y": "independent"}}
    },
    {
      "width": 120, "height": 120,
      "data": {"values": [{"x":-3.97e-5,"y":2.67e-5,"ky":4.09e-5,"sym":"β","tl":"~","sub":"⊥","tx":-2.58e-5,"ty":-3.33e-5,"tag":"(g)"}]},
      "layer": [
        {"data": {"name": "rose_dg"}, "mark": {"type": "line", "interpolate": "cardinal-closed", "stroke": "#0000ff", "strokeWidth": 2.4},
         "encoding": {
           "x": {"field": "x", "type": "quantitative", "scale": {"domain": [-5e-5, 5e-5], "nice": false}, "axis": {"orient": "bottom", "values": [-4e-5,-2e-5,0,2e-5,4e-5], "tickSize": -8, "labelExpr": "datum.value == 0 ? '0' : ''", "minExtent": 36, "title": null}},
           "y": {"field": "y", "type": "quantitative", "scale": {"domain": [-5e-5, 5e-5], "nice": false}, "axis": {"orient": "left", "values": [-4e-5,-2e-5,0,2e-5,4e-5], "tickSize": -8, "labelExpr": "datum.value > 3e-5 ? '4×10⁻⁵' : datum.value > 1e-5 ? '2×10⁻⁵' : datum.value < -3e-5 ? '−4×10⁻⁵' : datum.value < -1e-5 ? '−2×10⁻⁵' : '0'", "minExtent": 93, "title": null}},
           "order": {"value": null}}},
        {"mark": {"type": "text", "style": "symbol"},
         "encoding": {
           "x": {"field": "x", "type": "quantitative", "scale": {"domain": [-5e-5, 5e-5], "nice": false}, "axis": {"orient": "top", "values": [-4e-5,-2e-5,0,2e-5,4e-5], "tickSize": -8, "labels": false, "minExtent": 12, "title": null}},
           "y": {"field": "y", "type": "quantitative", "scale": {"domain": [-5e-5, 5e-5], "nice": false}, "axis": {"orient": "right", "values": [-4e-5,-2e-5,0,2e-5,4e-5], "tickSize": -8, "labels": false, "minExtent": 6, "title": null}},
           "text": {"field": "sym"}}},
        {"mark": {"type": "text", "style": "sup"},
         "encoding": {
           "x": {"field": "x", "type": "quantitative", "scale": {"domain": [-5e-5, 5e-5], "nice": false}, "axis": {"orient": "bottom", "values": [-4.5e-5,-3.5e-5,-3e-5,-2.5e-5,-1.5e-5,-1e-5,-0.5e-5,0.5e-5,1e-5,1.5e-5,2.5e-5,3e-5,3.5e-5,4.5e-5], "tickSize": -4, "labels": false, "title": null}},
           "y": {"field": "y", "type": "quantitative", "scale": {"domain": [-5e-5, 5e-5], "nice": false}, "axis": {"orient": "left", "values": [-4.5e-5,-3.5e-5,-3e-5,-2.5e-5,-1.5e-5,-1e-5,-0.5e-5,0.5e-5,1e-5,1.5e-5,2.5e-5,3e-5,3.5e-5,4.5e-5], "tickSize": -4, "labels": false, "title": null}},
           "text": {"value": "(e)"}}},
        {"mark": {"type": "text", "style": "sub"},
         "encoding": {
           "x": {"field": "x", "type": "quantitative", "scale": {"domain": [-5e-5, 5e-5], "nice": false}, "axis": {"orient": "top", "values": [-4.5e-5,-3.5e-5,-3e-5,-2.5e-5,-1.5e-5,-1e-5,-0.5e-5,0.5e-5,1e-5,1.5e-5,2.5e-5,3e-5,3.5e-5,4.5e-5], "tickSize": -4, "labels": false, "title": null}},
           "y": {"field": "y", "type": "quantitative", "scale": {"domain": [-5e-5, 5e-5], "nice": false}, "axis": {"orient": "right", "values": [-4.5e-5,-3.5e-5,-3e-5,-2.5e-5,-1.5e-5,-1e-5,-0.5e-5,0.5e-5,1e-5,1.5e-5,2.5e-5,3e-5,3.5e-5,4.5e-5], "tickSize": -4, "labels": false, "title": null}},
           "text": {"field": "sub"}}},
        {"mark": {"type": "text", "style": "tilde"},
         "encoding": {
           "x": {"field": "x", "type": "quantitative", "scale": {"domain": [-5e-5, 5e-5], "nice": false}, "axis": null},
           "y": {"field": "ky", "type": "quantitative", "scale": {"domain": [-5e-5, 5e-5], "nice": false}, "axis": null},
           "text": {"field": "tl"}}},
        {"mark": {"type": "text", "style": "tag"},
         "encoding": {
           "x": {"field": "tx", "type": "quantitative", "scale": {"domain": [-5e-5, 5e-5], "nice": false}, "axis": null},
           "y": {"field": "ty", "type": "quantitative", "scale": {"domain": [-5e-5, 5e-5], "nice": false}, "axis": null},
           "text": {"field": "tag"}}}
      ],
      "resolve": {"axis": {"x": "independent", "y": "independent"}}
    },
    {
      "width": 120, "height": 120,
      "data": {"values": [{"x":-5.5e-7,"y":6.5e-7,"sym":"β","sub":"⊥","tx":0.4e-7,"ty":-1.66e-6,"tag":"(h)"}]},
      "layer": [
        {"data": {"name": "circ_eh"}, "mark": {"type": "line", "interpolate": "cardinal-closed", "stroke": "#0000ff", "strokeWidth": 2.4},
         "encoding": {
           "x": {"field": "x", "type": "quantitative", "scale": {"domain": [-3.55e-6, 3.55e-6], "nice": false}, "axis": {"orient": "bottom", "values": [-2e-6,0,2e-6], "tickSize": -8, "labelExpr": "datum.value == 0 ? '0' : ''", "minExtent": 36, "title": null}},
           "y": {"field": "y", "type": "quantitative", "scale": {"domain": [-3.55e-6, 3.55e-6], "nice": false}, "axis": {"orient": "left", "values": [-2e-6,0,2e-6], "tickSize": -8, "labelExpr": "datum.value > 0 ? '2×10⁻⁶' : datum.value < 0 ? '−2×10⁻⁶' : '0'", "minExtent": 105, "title": null}},
           "order": {"value": null}}},
        {"mark": {"type": "text", "style": "symbol"},
         "encoding": {
           "x": {"field": "x", "type": "quantitative", "scale": {"domain": [-3.55e-6, 3.55e-6], "nice": false}, "axis": {"orient": "top", "values": [-2e-6,0,2e-6], "tickSize": -8, "labels": false, "minExtent": 12, "title": null}},
           "y": {"field": "y", "type": "quantitative", "scale": {"domain": [-3.55e-6, 3.55e-6], "nice": false}, "axis": {"orient": "right", "values": [-2e-6,0,2e-6], "tickSize": -8, "labels": false, "minExtent": 6, "title": null}},
           "text": {"field": "sym"}}},
        {"mark": {"type": "text", "style": "sup"},
         "encoding": {
           "x": {"field": "x", "type": "quantitative", "scale": {"domain": [-3.55e-6, 3.55e-6], "nice": false}, "axis": {"orient": "bottom", "values": [-3.5e-6,-3e-6,-2.5e-6,-1.5e-6,-1e-6,-0.5e-6,0.5e-6,1e-6,1.5e-6,2.5e-6,3e-6,3.5e-6], "tickSize": -4, "labels": false, "title": null}},
           "y": {"field": "y", "type": "quantitative", "scale": {"domain": [-3.55e-6, 3.55e-6], "nice": false}, "axis": {"orient": "left", "values": [-3.5e-6,-3e-6,-2.5e-6,-1.5e-6,-1e-6,-0.5e-6,0.5e-6,1e-6,1.5e-6,2.5e-6,3e-6,3.5e-6], "tickSize": -4, "labels": false, "title": null}},
           "text": {"value": "(e)"}}},
        {"mark": {"type": "text", "style": "sub"},
         "encoding": {
           "x": {"field": "x", "type": "quantitative", "scale": {"domain": [-3.55e-6, 3.55e-6], "nice": false}, "axis": {"orient": "top", "values": [-3.5e-6,-3e-6,-2.5e-6,-1.5e-6,-1e-6,-0.5e-6,0.5e-6,1e-6,1.5e-6,2.5e-6,3e-6,3.5e-6], "tickSize": -4, "labels": false, "title": null}},
           "y": {"field": "y", "type": "quantitative", "scale": {"domain": [-3.55e-6, 3.55e-6], "nice": false}, "axis": {"orient": "right", "values": [-3.5e-6,-3e-6,-2.5e-6,-1.5e-6,-1e-6,-0.5e-6,0.5e-6,1e-6,1.5e-6,2.5e-6,3e-6,3.5e-6], "tickSize": -4, "labels": false, "title": null}},
           "text": {"field": "sub"}}},
        {"mark": {"type": "text", "style": "tag"},
         "encoding": {
           "x": {"field": "tx", "type": "quantitative", "scale": {"domain": [-3.55e-6, 3.55e-6], "nice": false}, "axis": null},
           "y": {"field": "ty", "type": "quantitative", "scale": {"domain": [-3.55e-6, 3.55e-6], "nice": false}, "axis": null},
           "text": {"field": "tag"}}}
      ],
      "resolve": {"axis": {"x": "independent", "y": "independent"}}
    },
    {
      "width": 120, "height": 120,
      "data": {"values": [{"x":-1.72e-5,"y":0.8e-5,"sym":"β","sub":"‖","tx":-0.87e-5,"ty":-1e-5,"tag":"(i)"}]},
      "layer": [
        {"data": {"name": "lobe_fi"}, "mark": {"type": "line", "interpolate": "linear-closed", "stroke": "#0000ff", "strokeWidth": 2.4, "strokeJoin": "round"},
         "encoding": {
           "x": {"field": "x", "type": "quantitative", "scale": {"domain": [-2.4e-5, 2.4e-5], "nice": false}, "axis": {"orient": "bottom", "values": [-2e-5,-1e-5,0,1e-5,2e-5], "tickSize": -8, "labelExpr": "datum.value == 0 ? '0' : ''", "minExtent": 36, "title": null}},
           "y": {"field": "y", "type": "quantitative", "scale": {"domain": [-2.4e-5, 2.4e-5], "nice": false}, "axis": {"orient": "left", "values": [-2e-5,-1e-5,0,1e-5,2e-5], "tickSize": -8, "labelExpr": "datum.value > 1.5e-5 ? '2×10⁻⁵' : datum.value > 0 ? '10⁻⁵' : datum.value < -1.5e-5 ? '−2×10⁻⁵' : datum.value < 0 ? '−1×10⁻⁵' : '0'", "minExtent": 84, "title": null}},
           "order": {"value": null}}},
        {"mark": {"type": "text", "style": "symbol"},
         "encoding": {
           "x": {"field": "x", "type": "quantitative", "scale": {"domain": [-2.4e-5, 2.4e-5], "nice": false}, "axis": {"orient": "top", "values": [-2e-5,-1e-5,0,1e-5,2e-5], "tickSize": -8, "labels": false, "minExtent": 12, "title": null}},
           "y": {"field": "y", "type": "quantitative", "scale": {"domain": [-2.4e-5, 2.4e-5], "nice": false}, "axis": {"orient": "right", "values": [-2e-5,-1e-5,0,1e-5,2e-5], "tickSize": -8, "labels": false, "minExtent": 0, "title": null}},
           "text": {"field": "sym"}}},
        {"mark": {"type": "text", "style": "sup"},
         "encoding": {
           "x": {"field": "x", "type": "quantitative", "scale": {"domain": [-2.4e-5, 2.4e-5], "nice": false}, "axis": {"orient": "bottom", "values": [-2.2e-5,-1.8e-5,-1.6e-5,-1.4e-5,-1.2e-5,-0.8e-5,-0.6e-5,-0.4e-5,-0.2e-5,0.2e-5,0.4e-5,0.6e-5,0.8e-5,1.2e-5,1.4e-5,1.6e-5,1.8e-5,2.2e-5], "tickSize": -4, "labels": false, "title": null}},
           "y": {"field": "y", "type": "quantitative", "scale": {"domain": [-2.4e-5, 2.4e-5], "nice": false}, "axis": {"orient": "left", "values": [-2.2e-5,-1.8e-5,-1.6e-5,-1.4e-5,-1.2e-5,-0.8e-5,-0.6e-5,-0.4e-5,-0.2e-5,0.2e-5,0.4e-5,0.6e-5,0.8e-5,1.2e-5,1.4e-5,1.6e-5,1.8e-5,2.2e-5], "tickSize": -4, "labels": false, "title": null}},
           "text": {"value": "(e)"}}},
        {"mark": {"type": "text", "style": "sub"},
         "encoding": {
           "x": {"field": "x", "type": "quantitative", "scale": {"domain": [-2.4e-5, 2.4e-5], "nice": false}, "axis": {"orient": "top", "values": [-2.2e-5,-1.8e-5,-1.6e-5,-1.4e-5,-1.2e-5,-0.8e-5,-0.6e-5,-0.4e-5,-0.2e-5,0.2e-5,0.4e-5,0.6e-5,0.8e-5,1.2e-5,1.4e-5,1.6e-5,1.8e-5,2.2e-5], "tickSize": -4, "labels": false, "title": null}},
           "y": {"field": "y", "type": "quantitative", "scale": {"domain": [-2.4e-5, 2.4e-5], "nice": false}, "axis": {"orient": "right", "values": [-2.2e-5,-1.8e-5,-1.6e-5,-1.4e-5,-1.2e-5,-0.8e-5,-0.6e-5,-0.4e-5,-0.2e-5,0.2e-5,0.4e-5,0.6e-5,0.8e-5,1.2e-5,1.4e-5,1.6e-5,1.8e-5,2.2e-5], "tickSize": -4, "labels": false, "title": null}},
           "text": {"field": "sub"}}},
        {"mark": {"type": "text", "style": "tag"},
         "encoding": {
           "x": {"field": "tx", "type": "quantitative", "scale": {"domain": [-2.4e-5, 2.4e-5], "nice": false}, "axis": null},
           "y": {"field": "ty", "type": "quantitative", "scale": {"domain": [-2.4e-5, 2.4e-5], "nice": false}, "axis": null},
           "text": {"field": "tag"}}}
      ],
      "resolve": {"axis": {"x": "independent", "y": "independent"}}
    },
    {
      "width": 120, "height": 120,
      "data": {"values": [{"x":-0.47,"y":0.5,"ky":1.03,"sym":"γ","tl":"~","sub":"⊥","tx":-0.25,"ty":-1.17,"tag":"(j)"}]},
      "layer": [
        {"data": {"name": "circ_jl"}, "mark": {"type": "line", "interpolate": "cardinal-closed", "stroke": "#0000ff", "strokeWidth": 2.4},
         "encoding": {
           "x": {"field": "x", "type": "quantitative", "scale": {"domain": [-3, 3], "nice": false}, "axis": {"orient": "bottom", "values": [-2,0,2], "tickSize": -8, "labelExpr": "replace(format(datum.value, 'd'), '-', '−')", "minExtent": 36, "title": null}},
           "y": {"field": "y", "type": "quantitative", "scale": {"domain": [-3, 3], "nice": false}, "axis": {"orient": "left", "values": [-2,0,2], "tickSize": -8, "labelExpr": "replace(format(datum.value, 'd'), '-', '−')", "minExtent": 93, "title": null}},
           "order": {"value": null}}},
        {"mark": {"type": "text", "style": "symbol"},
         "encoding": {
           "x": {"field": "x", "type": "quantitative", "scale": {"domain": [-3, 3], "nice": false}, "axis": {"orient": "top", "values": [-2,0,2], "tickSize": -8, "labels": false, "minExtent": 12, "title": null}},
           "y": {"field": "y", "type": "quantitative", "scale": {"domain": [-3, 3], "nice": false}, "axis": {"orient": "right", "values": [-2,0,2], "tickSize": -8, "labels": false, "minExtent": 6, "title": null}},
           "text": {"field": "sym"}}},
        {"mark": {"type": "text", "style": "sup"},
         "encoding": {
           "x": {"field": "x", "type": "quantitative", "scale": {"domain": [-3, 3], "nice": false}, "axis": {"orient": "bottom", "values": [-2.5,-1.5,-1,-0.5,0.5,1,1.5,2.5], "tickSize": -4, "labels": false, "title": null}},
           "y": {"field": "y", "type": "quantitative", "scale": {"domain": [-3, 3], "nice": false}, "axis": {"orient": "left", "values": [-2.5,-1.5,-1,-0.5,0.5,1,1.5,2.5], "tickSize": -4, "labels": false, "title": null}},
           "text": {"value": "(e)"}}},
        {"mark": {"type": "text", "style": "sub"},
         "encoding": {
           "x": {"field": "x", "type": "quantitative", "scale": {"domain": [-3, 3], "nice": false}, "axis": {"orient": "top", "values": [-2.5,-1.5,-1,-0.5,0.5,1,1.5,2.5], "tickSize": -4, "labels": false, "title": null}},
           "y": {"field": "y", "type": "quantitative", "scale": {"domain": [-3, 3], "nice": false}, "axis": {"orient": "right", "values": [-2.5,-1.5,-1,-0.5,0.5,1,1.5,2.5], "tickSize": -4, "labels": false, "title": null}},
           "text": {"field": "sub"}}},
        {"mark": {"type": "text", "style": "tilde"},
         "encoding": {
           "x": {"field": "x", "type": "quantitative", "scale": {"domain": [-3, 3], "nice": false}, "axis": null},
           "y": {"field": "ky", "type": "quantitative", "scale": {"domain": [-3, 3], "nice": false}, "axis": null},
           "text": {"field": "tl"}}},
        {"mark": {"type": "text", "style": "tag"},
         "encoding": {
           "x": {"field": "tx", "type": "quantitative", "scale": {"domain": [-3, 3], "nice": false}, "axis": null},
           "y": {"field": "ty", "type": "quantitative", "scale": {"domain": [-3, 3], "nice": false}, "axis": null},
           "text": {"field": "tag"}}}
      ],
      "resolve": {"axis": {"x": "independent", "y": "independent"}}
    },
    {
      "width": 120, "height": 120,
      "data": {"values": [{"x":-0.22,"y":0.13,"sym":"γ","sub":"⊥","tx":-0.03,"ty":-0.91,"tag":"(k)"}]},
      "layer": [
        {"data": {"name": "circ_k"}, "mark": {"type": "line", "interpolate": "cardinal-closed", "stroke": "#0000ff", "strokeWidth": 2.4},
         "encoding": {
           "x": {"field": "x", "type": "quantitative", "scale": {"domain": [-2, 2], "nice": false}, "axis": {"orient": "bottom", "values": [-2,-1,0,1,2], "tickSize": -8, "labelExpr": "replace(format(datum.value, 'd'), '-', '−')", "minExtent": 36, "title": null}},
           "y": {"field": "y", "type": "quantitative", "scale": {"domain": [-2, 2], "nice": false}, "axis": {"orient": "left", "values": [-2,-1,0,1,2], "tickSize": -8, "labelExpr": "replace(format(datum.value, 'd'), '-', '−')", "minExtent": 105, "title": null}},
           "order": {"value": null}}},
        {"mark": {"type": "text", "style": "symbol"},
         "encoding": {
           "x": {"field": "x", "type": "quantitative", "scale": {"domain": [-2, 2], "nice": false}, "axis": {"orient": "top", "values": [-2,-1,0,1,2], "tickSize": -8, "labels": false, "minExtent": 12, "title": null}},
           "y": {"field": "y", "type": "quantitative", "scale": {"domain": [-2, 2], "nice": false}, "axis": {"orient": "right", "values": [-2,-1,0,1,2], "tickSize": -8, "labels": false, "minExtent": 6, "title": null}},
           "text": {"field": "sym"}}},
        {"mark": {"type": "text", "style": "sup"},
         "encoding": {
           "x": {"field": "x", "type": "quantitative", "scale": {"domain": [-2, 2], "nice": false}, "axis": {"orient": "bottom", "values": [-1.8,-1.6,-1.4,-1.2,-0.8,-0.6,-0.4,-0.2,0.2,0.4,0.6,0.8,1.2,1.4,1.6,1.8], "tickSize": -4, "labels": false, "title": null}},
           "y": {"field": "y", "type": "quantitative", "scale": {"domain": [-2, 2], "nice": false}, "axis": {"orient": "left", "values": [-1.8,-1.6,-1.4,-1.2,-0.8,-0.6,-0.4,-0.2,0.2,0.4,0.6,0.8,1.2,1.4,1.6,1.8], "tickSize": -4, "labels": false, "title": null}},
           "text": {"value": "(e)"}}},
        {"mark": {"type": "text", "style": "sub"},
         "encoding": {
           "x": {"field": "x", "type": "quantitative", "scale": {"domain": [-2, 2], "nice": false}, "axis": {"orient": "top", "values": [-1.8,-1.6,-1.4,-1.2,-0.8,-0.6,-0.4,-0.2,0.2,0.4,0.6,0.8,1.2,1.4,1.6,1.8], "tickSize": -4, "labels": false, "title": null}},
           "y": {"field": "y", "type": "quantitative", "scale": {"domain": [-2, 2], "nice": false}, "axis": {"orient": "right", "values": [-1.8,-1.6,-1.4,-1.2,-0.8,-0.6,-0.4,-0.2,0.2,0.4,0.6,0.8,1.2,1.4,1.6,1.8], "tickSize": -4, "labels": false, "title": null}},
           "text": {"field": "sub"}}},
        {"mark": {"type": "text", "style": "tag"},
         "encoding": {
           "x": {"field": "tx", "type": "quantitative", "scale": {"domain": [-2, 2], "nice": false}, "axis": null},
           "y": {"field": "ty", "type": "quantitative", "scale": {"domain": [-2, 2], "nice": false}, "axis": null},
           "text": {"field": "tag"}}}
      ],
      "resolve": {"axis": {"x": "independent", "y": "independent"}}
    },
    {
      "width": 120, "height": 120,
      "data": {"values": [{"x":-0.67,"y":0.42,"sym":"γ","sub":"‖","tx":-0.14,"ty":-1.17,"tag":"(l)"}]},
      "layer": [
        {"data": {"name": "circ_jl"}, "mark": {"type": "line", "interpolate": "cardinal-closed", "stroke": "#0000ff", "strokeWidth": 2.4},
         "encoding": {
           "x": {"field": "x", "type": "quantitative", "scale": {"domain": [-3, 3], "nice": false}, "axis": {"orient": "bottom", "values": [-2,0,2], "tickSize": -8, "labelExpr": "replace(format(datum.value, 'd'), '-', '−')", "minExtent": 36, "title": null}},
           "y": {"field": "y", "type": "quantitative", "scale": {"domain": [-3, 3], "nice": false}, "axis": {"orient": "left", "values": [-2,0,2], "tickSize": -8, "labelExpr": "replace(format(datum.value, 'd'), '-', '−')", "minExtent": 84, "title": null}},
           "order": {"value": null}}},
        {"mark": {"type": "text", "style": "symbol"},
         "encoding": {
           "x": {"field": "x", "type": "quantitative", "scale": {"domain": [-3, 3], "nice": false}, "axis": {"orient": "top", "values": [-2,0,2], "tickSize": -8, "labels": false, "minExtent": 12, "title": null}},
           "y": {"field": "y", "type": "quantitative", "scale": {"domain": [-3, 3], "nice": false}, "axis": {"orient": "right", "values": [-2,0,2], "tickSize": -8, "labels": false, "minExtent": 0, "title": null}},
           "text": {"field": "sym"}}},
        {"mark": {"type": "text", "style": "sup"},
         "encoding": {
           "x": {"field": "x", "type": "quantitative", "scale": {"domain": [-3, 3], "nice": false}, "axis": {"orient": "bottom", "values": [-2.5,-1.5,-1,-0.5,0.5,1,1.5,2.5], "tickSize": -4, "labels": false, "title": null}},
           "y": {"field": "y", "type": "quantitative", "scale": {"domain": [-3, 3], "nice": false}, "axis": {"orient": "left", "values": [-2.5,-1.5,-1,-0.5,0.5,1,1.5,2.5], "tickSize": -4, "labels": false, "title": null}},
           "text": {"value": "(e)"}}},
        {"mark": {"type": "text", "style": "sub"},
         "encoding": {
           "x": {"field": "x", "type": "quantitative", "scale": {"domain": [-3, 3], "nice": false}, "axis": {"orient": "top", "values": [-2.5,-1.5,-1,-0.5,0.5,1,1.5,2.5], "tickSize": -4, "labels": false, "title": null}},
           "y": {"field": "y", "type": "quantitative", "scale": {"domain": [-3, 3], "nice": false}, "axis": {"orient": "right", "values": [-2.5,-1.5,-1,-0.5,0.5,1,1.5,2.5], "tickSize": -4, "labels": false, "title": null}},
           "text": {"field": "sub"}}},
        {"mark": {"type": "text", "style": "tag"},
         "encoding": {
           "x": {"field": "tx", "type": "quantitative", "scale": {"domain": [-3, 3], "nice": false}, "axis": null},
           "y": {"field": "ty", "type": "quantitative", "scale": {"domain": [-3, 3], "nice": false}, "axis": null},
           "text": {"field": "tag"}}}
      ],
      "resolve": {"axis": {"x": "independent", "y": "independent"}}
    }
  ],
  "config": {
    "view": {"stroke": "black", "strokeWidth": 2},
    "axis": {"domain": false, "grid": false, "tickColor": "black", "tickWidth": 1.5, "labelFont": "DejaVu Sans", "labelFontSize": 16, "labelColor": "black", "labelFlush": false, "labelOverlap": false, "labelBound": false, "minExtent": 0, "maxExtent": 200},
    "axisBottom": {"labelPadding": 21},
    "axisLeft": {"labelPadding": 17},
    "style": {
      "symbol": {"font": "Liberation Serif", "fontStyle": "italic", "fontSize": 28, "align": "left", "baseline": "alphabetic"},
      "tilde": {"font": "DejaVu Sans", "fontSize": 17, "align": "left", "baseline": "alphabetic", "dx": 5},
      "sup": {"font": "DejaVu Sans", "fontWeight": "bold", "fontSize": 12, "align": "left", "baseline": "alphabetic", "dx": 16, "dy": -11},
      "sub": {"font": "DejaVu Sans", "fontSize": 13, "align": "left", "baseline": "alphabetic", "dx": 12, "dy": 6},
      "tag": {"font": "Liberation Serif", "fontSize": 27, "align": "center", "baseline": "middle"}
    }
  }
}
